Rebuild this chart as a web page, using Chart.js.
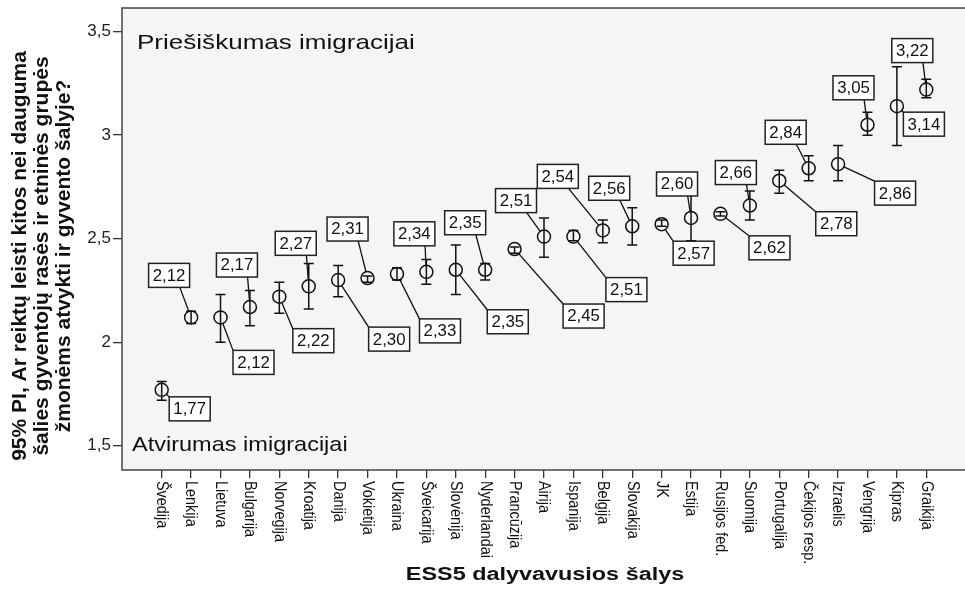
<!DOCTYPE html>
<html>
<head>
<meta charset="utf-8">
<script src="https://cdn.jsdelivr.net/npm/chart.js@4.4.1/dist/chart.umd.min.js"></script>
<style>
  html, body { margin: 0; padding: 0; overflow: hidden; background: #fff; }
  canvas { display: block; }
</style>
</head>
<body>
<canvas id="chart" width="985" height="599"></canvas>
<script>
// ESS5 šalys, surūšiuotos pagal vidurkį
const countries = [
  "Švedija", "Lenkija", "Lietuva", "Bulgarija", "Norvegija", "Kroatija", "Danija",
  "Vokietija", "Ukraina", "Šveicarija", "Slovėnija", "Nyderlandai", "Prancūzija",
  "Airija", "Ispanija", "Belgija", "Slovakija", "JK", "Estija", "Rusijos fed.",
  "Suomija", "Portugalija", "Čekijos resp.", "Izraelis", "Vengrija", "Kipras", "Graikija"
];
const means = [
  1.77, 2.12, 2.12, 2.17, 2.22, 2.27, 2.30, 2.31, 2.33, 2.34, 2.35, 2.35, 2.45,
  2.51, 2.51, 2.54, 2.56, 2.57, 2.60, 2.62, 2.66, 2.78, 2.84, 2.86, 3.05, 3.14, 3.22
];
// 95% PI ribos
const ciLow = [
  1.72, 2.09, 2.00, 2.08, 2.14, 2.16, 2.22, 2.29, 2.30, 2.28, 2.23, 2.30, 2.43,
  2.41, 2.49, 2.48, 2.47, 2.56, 2.49, 2.61, 2.59, 2.72, 2.78, 2.78, 3.00, 2.95, 3.18
];
const ciHigh = [
  1.81, 2.15, 2.23, 2.25, 2.29, 2.38, 2.37, 2.32, 2.36, 2.40, 2.47, 2.38, 2.46,
  2.60, 2.54, 2.59, 2.65, 2.59, 2.72, 2.63, 2.73, 2.83, 2.90, 2.95, 3.11, 3.33, 3.27
];
const yTicks = [1.5, 2, 2.5, 3, 3.5];

// etikečių dėžučių poslinkis nuo taško (px) - tik išdėstymui
const labelOffsets = [
  [28, 19], [-22, -42], [33, 45], [-13, -42], [34, 44], [-13, -43], [51, 59],
  [-20, -49], [43, 57], [-12, -38], [52, 52], [-20, -47], [69, 67],
  [-28, -36], [53, 53], [-45, -54], [-23, -38], [32, 29], [-14, -34], [49, 34],
  [-14, -33], [57, 43], [-23, -36], [57, 29], [-14, -37], [27, 18], [-14, -39]
];

const FONT = "'Liberation Sans', Arial, sans-serif";
const fmt = (v) => String(v).replace(".", ",");

function stretchText(ctx, text, x, y, sx) {
  ctx.save();
  ctx.translate(x, y);
  ctx.scale(sx, 1);
  ctx.fillText(text, 0, 0);
  ctx.restore();
}

const decorPlugin = {
  id: "decor",
  beforeDatasetsDraw(chart) {
    const { ctx, chartArea: a, scales } = chart;
    ctx.save();
    // plot fonas
    ctx.fillStyle = "#f5f5f5";
    ctx.fillRect(a.left, a.top, a.right - a.left, a.bottom - a.top);
    ctx.strokeStyle = "#444";
    ctx.lineWidth = 1.5;
    ctx.strokeRect(a.left, a.top, a.right - a.left, a.bottom - a.top);

    // paaiškinimai ploto viduje
    ctx.fillStyle = "#111";
    ctx.font = `21px ${FONT}`;
    ctx.textBaseline = "alphabetic";
    ctx.textAlign = "left";
    stretchText(ctx, "Priešiškumas imigracijai", a.left + 15, a.top + 41, 1.24);
    stretchText(ctx, "Atvirumas imigracijai", a.left + 10, a.top + 443, 1.12);

    // paklaidų stulpeliai
    ctx.strokeStyle = "#111";
    ctx.lineWidth = 1.5;
    means.forEach((m, i) => {
      const x = scales.x.getPixelForValue(i);
      const y1 = scales.y.getPixelForValue(ciLow[i]);
      const y2 = scales.y.getPixelForValue(ciHigh[i]);
      ctx.beginPath();
      ctx.moveTo(x, y1); ctx.lineTo(x, y2);
      ctx.moveTo(x - 5, y1); ctx.lineTo(x + 5, y1);
      ctx.moveTo(x - 5, y2); ctx.lineTo(x + 5, y2);
      ctx.stroke();
    });
    ctx.restore();
  },
  afterDatasetsDraw(chart) {
    const { ctx, scales } = chart;
    const bw = 41, bh = 24, r = 6.5;
    ctx.save();
    means.forEach((m, i) => {
      const px = scales.x.getPixelForValue(i);
      const py = scales.y.getPixelForValue(m);
      const cx = px + labelOffsets[i][0];
      const cy = py + labelOffsets[i][1];
      const left = cx - bw / 2, top = cy - bh / 2;
      // linijos galas ant dėžutės
      let ex, ey;
      if (labelOffsets[i][1] > 0) { ex = left; ey = top; }
      else { ex = left + bw * 0.76; ey = top + bh; }
      const dx = ex - px, dy = ey - py;
      const d = Math.hypot(dx, dy) || 1;
      ctx.strokeStyle = "#111";
      ctx.lineWidth = 1.3;
      ctx.beginPath();
      ctx.moveTo(px + dx / d * r, py + dy / d * r);
      ctx.lineTo(ex, ey);
      ctx.stroke();
      ctx.fillStyle = "#fff";
      ctx.fillRect(left, top, bw, bh);
      ctx.strokeStyle = "#222";
      ctx.lineWidth = 1.5;
      ctx.strokeRect(left, top, bw, bh);
      ctx.fillStyle = "#111";
      ctx.font = `16px ${FONT}`;
      ctx.textAlign = "center";
      ctx.textBaseline = "middle";
      stretchText(ctx, fmt(m.toFixed(2)), cx, cy + 1, 1.05);
    });
    ctx.restore();
  },
  afterDraw(chart) {
    const { ctx, chartArea: a, scales } = chart;
    ctx.save();
    ctx.fillStyle = "#111";
    // x ašies šalių pavadinimai (skaitomi iš viršaus į apačią)
    ctx.font = `14px ${FONT}`;
    ctx.textAlign = "left";
    ctx.textBaseline = "middle";
    countries.forEach((c, i) => {
      const x = scales.x.getPixelForValue(i);
      ctx.save();
      ctx.translate(x, a.bottom + 11);
      ctx.rotate(Math.PI / 2);
      ctx.scale(1.03, 1.2);
      ctx.fillText(c, 0, 0);
      ctx.restore();
    });
    // x ašies pavadinimas
    ctx.font = `bold 18px ${FONT}`;
    ctx.textAlign = "center";
    ctx.textBaseline = "alphabetic";
    stretchText(ctx, "ESS5 dalyvavusios šalys", 545, 580, 1.3);
    // y ašies pavadinimas
    const yTitle = [
      "95% PI, Ar reiktų leisti kitos nei dauguma",
      "šalies gyventojų rasės ir etninės grupės",
      "žmonėms atvykti ir gyvento šalyje?"
    ];
    ctx.font = `bold 21px ${FONT}`;
    ctx.textBaseline = "middle";
    yTitle.forEach((t, k) => {
      ctx.save();
      ctx.translate(20 + k * 22, 256);
      ctx.rotate(-Math.PI / 2);
      ctx.fillText(t, 0, 0);
      ctx.restore();
    });
    ctx.restore();
  }
};

new Chart(document.getElementById("chart"), {
  type: "scatter",
  data: {
    datasets: [{
      label: "Vidurkis",
      data: means.map((m, i) => ({ x: i, y: m })),
      pointStyle: "circle",
      pointRadius: 6.5,
      pointHoverRadius: 6.5,
      borderColor: "#111",
      borderWidth: 1.5,
      backgroundColor: "rgba(0,0,0,0)"
    }]
  },
  options: {
    responsive: false,
    animation: false,
    layout: { padding: { left: 0, right: 19, top: 7, bottom: 0 } },
    scales: {
      x: {
        type: "linear",
        min: -1.35,
        max: 27.35,
        afterBuildTicks: (s) => { s.ticks = countries.map((c, i) => ({ value: i })); },
        ticks: { display: false },
        grid: { drawOnChartArea: false, drawTicks: true, tickLength: 8, color: "#333", lineWidth: 1.3 },
        border: { display: false },
        afterFit: (s) => { s.height = 129; s.paddingLeft = 0; s.paddingRight = 0; }
      },
      y: {
        min: 1.383,
        max: 3.614,
        afterBuildTicks: (s) => { s.ticks = yTicks.map((v) => ({ value: v })); },
        ticks: {
          callback: (v) => fmt(v),
          font: { family: FONT, size: 17 },
          color: "#222",
          padding: 2
        },
        grid: { drawOnChartArea: false, drawTicks: true, tickLength: 9, color: "#333", lineWidth: 1.3 },
        border: { display: false },
        afterFit: (s) => { s.width = 122; s.paddingTop = 0; s.paddingBottom = 0; }
      }
    },
    plugins: {
      legend: { display: false },
      tooltip: { enabled: false }
    }
  },
  plugins: [decorPlugin]
});
</script>
</body>
</html>
